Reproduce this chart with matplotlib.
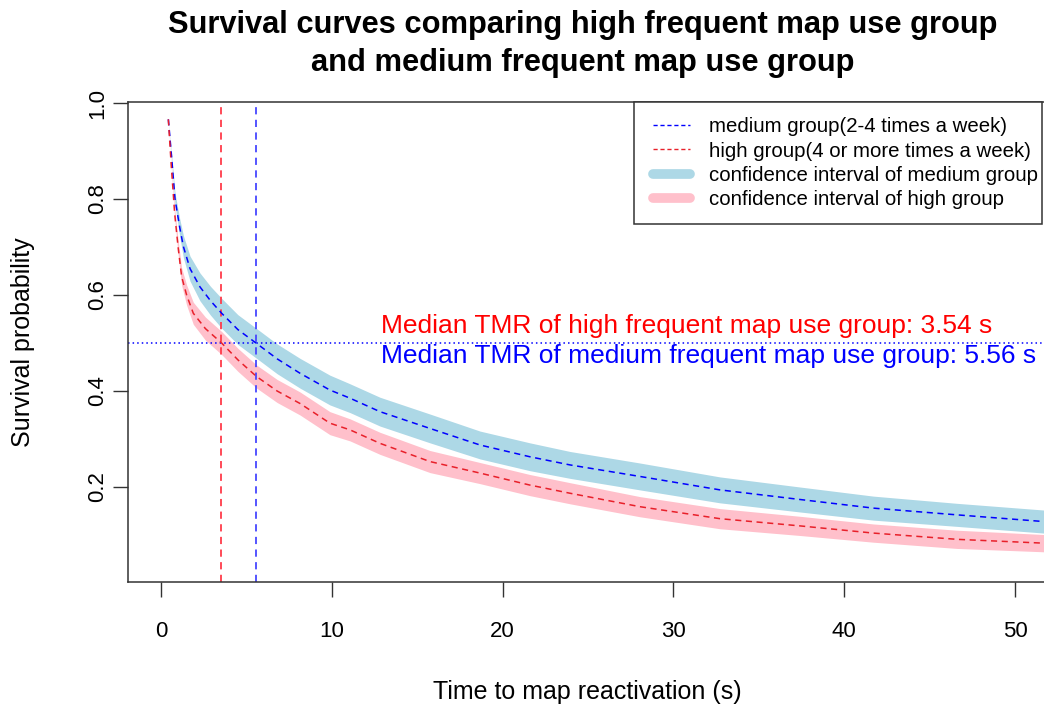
import numpy as np
import matplotlib
matplotlib.use("Agg")
import matplotlib.pyplot as plt
from matplotlib.lines import Line2D
from matplotlib.patches import Rectangle

plt.rcParams['font.family'] = ['Liberation Sans', 'DejaVu Sans']

# --- survival curves ---
medium_t = [0.43, 0.62, 0.82, 1.1, 1.31, 1.7, 2.28, 2.9, 3.55, 4.5, 5.6, 6.8, 8.14,
            9.89, 11.07, 12.82, 15.75, 18.68, 21.6, 23.95, 28.04, 32.73, 37.41,
            41.71, 46.6, 51.7]
medium_s = [0.966, 0.888, 0.80, 0.74, 0.701, 0.655, 0.617, 0.588, 0.562, 0.528, 0.499,
            0.467, 0.437, 0.402, 0.385, 0.357, 0.322, 0.2875, 0.263, 0.246, 0.222,
            0.194, 0.174, 0.156, 0.142, 0.128]
medium_ci = [0.0, 0.005, 0.012, 0.018, 0.023, 0.026, 0.029, 0.030, 0.031, 0.031, 0.031,
             0.031, 0.031, 0.031, 0.030, 0.030, 0.030, 0.029, 0.029, 0.028, 0.028,
             0.027, 0.026, 0.025, 0.024, 0.024]

high_t = [0.43, 0.6, 0.8, 1.0, 1.21, 1.5, 1.89, 2.6, 3.55, 4.5, 5.6, 6.8, 8.14,
          9.89, 11.07, 12.82, 15.75, 18.68, 21.6, 23.95, 28.04, 32.73, 37.41,
          41.71, 46.6, 51.7]
high_s = [0.966, 0.87, 0.77, 0.70, 0.638, 0.60, 0.562, 0.53, 0.50, 0.465, 0.430,
          0.40, 0.374, 0.333, 0.319, 0.291, 0.253, 0.229, 0.204, 0.187, 0.159,
          0.134, 0.119, 0.104, 0.091, 0.083]
high_ci = [0.0, 0.005, 0.010, 0.015, 0.018, 0.021, 0.023, 0.024, 0.024, 0.024, 0.024,
           0.024, 0.024, 0.024, 0.023, 0.023, 0.023, 0.022, 0.022, 0.022, 0.021,
           0.021, 0.020, 0.019, 0.019, 0.018]

median_high = 3.54
median_medium = 5.56

labels = ["medium group(2-4 times a week)",
          "high group(4 or more times a week)",
          "confidence interval of medium group",
          "confidence interval of high group"]

# --- figure ---
fig = plt.figure(figsize=(10.44, 7.06), dpi=100)
ax = fig.add_axes([128/1044, 1 - 582/706, 1 - 128/1044, 480/706])

mt, ms, mc = map(np.array, (medium_t, medium_s, medium_ci))
ht, hs, hc = map(np.array, (high_t, high_s, high_ci))

ax.fill_between(mt, ms - mc, ms + mc, color='lightblue', lw=0, zorder=1)
ax.fill_between(ht, hs - hc, hs + hc, color='pink', lw=0, zorder=1)
ax.plot(mt, ms, color='blue', lw=1.1, ls=(0, (4, 3)), zorder=3)
ax.plot(ht, hs, color='#e8202a', lw=1.1, ls=(0, (4, 3)), zorder=3)

ax.axhline(0.5, color='blue', lw=1.1, ls=(0, (1, 2)), zorder=2)
ax.axvline(median_high, color='#ff3b4a', lw=1.3, ls=(0, (4, 3)), zorder=2)
ax.axvline(median_medium, color='#4646ff', lw=1.3, ls=(0, (4, 3)), zorder=2)

ax.text(12.88, 0.535, f"Median TMR of high frequent map use group: {median_high} s",
        color='red', fontsize=19, ha='left', va='center')
ax.text(12.88, 0.473, f"Median TMR of medium frequent map use group: {median_medium} s",
        color='blue', fontsize=19, ha='left', va='center')

ax.set_xlim(-1.932, 51.70)
ax.set_ylim(0.0021, 1.0021)
ax.set_xticks([0, 10, 20, 30, 40, 50])
ax.set_yticks([0.2, 0.4, 0.6, 0.8, 1.0])
ax.set_yticklabels(["0.2", "0.4", "0.6", "0.8", "1.0"], rotation=90, va='center')
ax.tick_params(axis='both', direction='out', length=11, width=1, labelsize=16,
               color='#333333')
ax.tick_params(axis='x', pad=17)
ax.tick_params(axis='y', pad=3)
ax.spines['right'].set_visible(False)
for s in ['left', 'bottom', 'top']:
    ax.spines[s].set_color('#333333')
    ax.spines[s].set_linewidth(1.1)

ax.set_xlabel("Time to map reactivation (s)", fontsize=18)
ax.xaxis.set_label_coords(0.501, -0.23)
ax.xaxis.label.set_va('center')
ax.set_ylabel("Survival probability", fontsize=18)
ax.yaxis.set_label_coords(-(128 - 23) / 916, 0.5)
ax.yaxis.label.set_va('center')

# legend box drawn separately (R style: wider left padding)
ax.add_patch(Rectangle(((634 - 128) / 916, (582 - 224) / 480), 408 / 916, 122 / 480,
                       transform=ax.transAxes, facecolor='white', edgecolor='#333333',
                       lw=1.1, clip_on=False, zorder=4.9))
handles = [Line2D([], [], color='blue', lw=1, ls=(0, (3, 2))),
           Line2D([], [], color='#e8202a', lw=1, ls=(0, (3, 2))),
           Line2D([], [], color='lightblue', lw=7, solid_capstyle='round'),
           Line2D([], [], color='pink', lw=7, solid_capstyle='round')]
leg = ax.legend(handles, labels, loc='upper left',
                bbox_to_anchor=((653 - 128) / 916, (582 - 117.5) / 480),
                borderaxespad=0, borderpad=0, frameon=False,
                fontsize=14.7, handlelength=1.81, handletextpad=0.93,
                labelspacing=0.25)
leg.set_zorder(5)

fig.text(583 / 1044, 1 - 44 / 706,
         "Survival curves comparing high frequent map use group\nand medium frequent map use group",
         ha='center', va='center', fontsize=22.2, fontweight='bold', linespacing=1.39)

fig.savefig("out.png", dpi=100)
